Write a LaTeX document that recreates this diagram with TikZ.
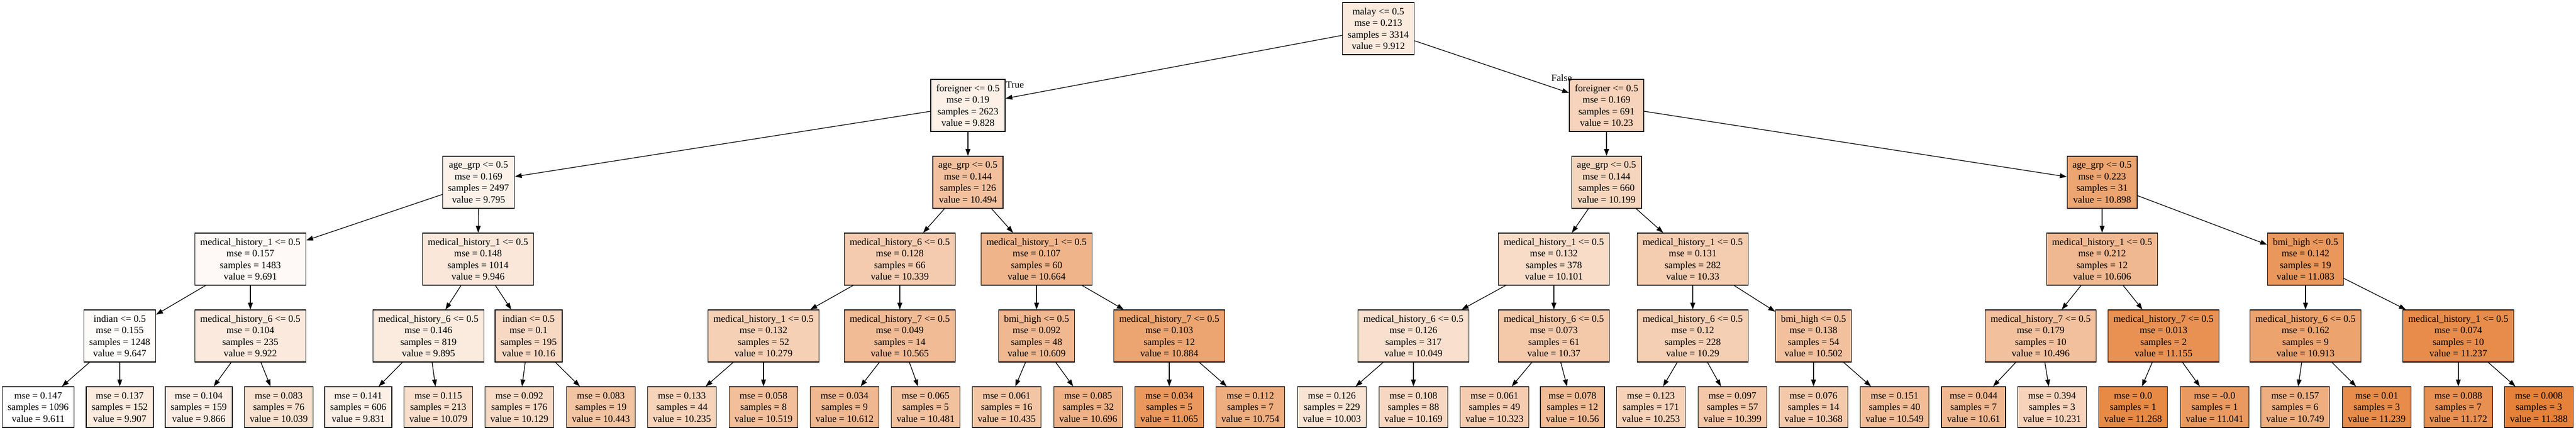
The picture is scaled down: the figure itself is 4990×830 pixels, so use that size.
\documentclass[tikz,border=0pt]{standalone}
\usepackage{fontspec}
\setmainfont{Liberation Serif}
\usetikzlibrary{arrows.meta}
\definecolor{gvorange}{RGB}{229,129,57}
\tikzset{
  treenode/.style={draw=black, line width=1pt, rectangle, align=center, inner xsep=7.9pt, inner ysep=0pt, font=\fontsize{14.1}{16.9}\selectfont},
  splitnode/.style={treenode, minimum height=75.75pt},
  leafnode/.style={treenode, minimum height=59.25pt},
  gvfill/.style={fill=gvorange!#1!white},
  conn/.style={draw=black, line width=1pt, -{Triangle[length=10pt,width=7pt]}},
  elabel/.style={font=\fontsize{14.1}{16.9}\selectfont, inner sep=0pt}
}
\begin{document}
\begin{tikzpicture}[x=0.75pt,y=-0.75pt]
\fill[white] (0,0) rectangle (4990,830);
\useasboundingbox (0,0) rectangle (4990,830);
% rank 0
\node[splitnode, gvfill=16.9] (n) at (2670,55.5) {malay <= 0.5\\mse = 0.213\\samples = 3314\\value = 9.912};
% rank 1
\node[splitnode, gvfill=12.2] (nL) at (1875,204.5) {foreigner <= 0.5\\mse = 0.19\\samples = 2623\\value = 9.828};
\node[splitnode, gvfill=34.8] (nR) at (3112,204.5) {foreigner <= 0.5\\mse = 0.169\\samples = 691\\value = 10.23};
% rank 2
\node[splitnode, gvfill=10.4] (nLL) at (927,353.5) {age\_grp <= 0.5\\mse = 0.169\\samples = 2497\\value = 9.795};
\node[splitnode, gvfill=49.7] (nLR) at (1875,353.5) {age\_grp <= 0.5\\mse = 0.144\\samples = 126\\value = 10.494};
\node[splitnode, gvfill=33.1] (nRL) at (3112,353.5) {age\_grp <= 0.5\\mse = 0.144\\samples = 660\\value = 10.199};
\node[splitnode, gvfill=72.4] (nRR) at (4072,353.5) {age\_grp <= 0.5\\mse = 0.223\\samples = 31\\value = 10.898};
% rank 3
\node[splitnode, gvfill=4.5] (nLLL) at (485,502.5) {medical\_history\_1 <= 0.5\\mse = 0.157\\samples = 1483\\value = 9.691};
\node[splitnode, gvfill=18.9] (nLLR) at (926,502.5) {medical\_history\_1 <= 0.5\\mse = 0.148\\samples = 1014\\value = 9.946};
\node[splitnode, gvfill=41.0] (nLRL) at (1743,502.5) {medical\_history\_6 <= 0.5\\mse = 0.128\\samples = 66\\value = 10.339};
\node[splitnode, gvfill=59.3] (nLRR) at (2008,502.5) {medical\_history\_1 <= 0.5\\mse = 0.107\\samples = 60\\value = 10.664};
\node[splitnode, gvfill=27.6] (nRLL) at (3010,502.5) {medical\_history\_1 <= 0.5\\mse = 0.132\\samples = 378\\value = 10.101};
\node[splitnode, gvfill=40.5] (nRLR) at (3279,502.5) {medical\_history\_1 <= 0.5\\mse = 0.131\\samples = 282\\value = 10.33};
\node[splitnode, gvfill=56.0] (nRRL) at (4072,502.5) {medical\_history\_1 <= 0.5\\mse = 0.212\\samples = 12\\value = 10.606};
\node[splitnode, gvfill=82.8] (nRRR) at (4466,502.5) {bmi\_high <= 0.5\\mse = 0.142\\samples = 19\\value = 11.083};
% rank 4
\node[splitnode, gvfill=2.0] (nLLLL) at (232,651.5) {indian <= 0.5\\mse = 0.155\\samples = 1248\\value = 9.647};
\node[splitnode, gvfill=17.5] (nLLLR) at (485,651.5) {medical\_history\_6 <= 0.5\\mse = 0.104\\samples = 235\\value = 9.922};
\node[splitnode, gvfill=16.0] (nLLRL) at (830,651.5) {medical\_history\_6 <= 0.5\\mse = 0.146\\samples = 819\\value = 9.895};
\node[splitnode, gvfill=30.9] (nLLRR) at (1024,651.5) {indian <= 0.5\\mse = 0.1\\samples = 195\\value = 10.16};
\node[splitnode, gvfill=37.6] (nLRLL) at (1479,651.5) {medical\_history\_1 <= 0.5\\mse = 0.132\\samples = 52\\value = 10.279};
\node[splitnode, gvfill=53.7] (nLRLR) at (1743,651.5) {medical\_history\_7 <= 0.5\\mse = 0.049\\samples = 14\\value = 10.565};
\node[splitnode, gvfill=56.2] (nLRRL) at (2008,651.5) {bmi\_high <= 0.5\\mse = 0.092\\samples = 48\\value = 10.609};
\node[splitnode, gvfill=71.6] (nLRRR) at (2265,651.5) {medical\_history\_7 <= 0.5\\mse = 0.103\\samples = 12\\value = 10.884};
\node[splitnode, gvfill=24.6] (nRLLL) at (2738,651.5) {medical\_history\_6 <= 0.5\\mse = 0.126\\samples = 317\\value = 10.049};
\node[splitnode, gvfill=42.7] (nRLLR) at (3010,651.5) {medical\_history\_6 <= 0.5\\mse = 0.073\\samples = 61\\value = 10.37};
\node[splitnode, gvfill=38.2] (nRLRL) at (3279,651.5) {medical\_history\_6 <= 0.5\\mse = 0.12\\samples = 228\\value = 10.29};
\node[splitnode, gvfill=50.1] (nRLRR) at (3513,651.5) {bmi\_high <= 0.5\\mse = 0.138\\samples = 54\\value = 10.502};
\node[splitnode, gvfill=49.8] (nRRLL) at (3953,651.5) {medical\_history\_7 <= 0.5\\mse = 0.179\\samples = 10\\value = 10.496};
\node[splitnode, gvfill=86.9] (nRRLR) at (4191,651.5) {medical\_history\_7 <= 0.5\\mse = 0.013\\samples = 2\\value = 11.155};
\node[splitnode, gvfill=73.3] (nRRRL) at (4466,651.5) {medical\_history\_6 <= 0.5\\mse = 0.162\\samples = 9\\value = 10.913};
\node[splitnode, gvfill=91.5] (nRRRR) at (4762,651.5) {medical\_history\_1 <= 0.5\\mse = 0.074\\samples = 10\\value = 11.237};
% leaves
\node[leafnode, gvfill=0] (nLLLLL) at (74,789.5) {mse = 0.147\\samples = 1096\\value = 9.611};
\node[leafnode, gvfill=16.7] (nLLLLR) at (232,789.5) {mse = 0.137\\samples = 152\\value = 9.907};
\node[leafnode, gvfill=14.3] (nLLLRL) at (385,789.5) {mse = 0.104\\samples = 159\\value = 9.866};
\node[leafnode, gvfill=24.1] (nLLLRR) at (540,789.5) {mse = 0.083\\samples = 76\\value = 10.039};
\node[leafnode, gvfill=12.4] (nLLRLL) at (694,789.5) {mse = 0.141\\samples = 606\\value = 9.831};
\node[leafnode, gvfill=26.3] (nLLRLR) at (849,789.5) {mse = 0.115\\samples = 213\\value = 10.079};
\node[leafnode, gvfill=29.2] (nLLRRL) at (1006,789.5) {mse = 0.092\\samples = 176\\value = 10.129};
\node[leafnode, gvfill=46.8] (nLLRRR) at (1164,789.5) {mse = 0.083\\samples = 19\\value = 10.443};
\node[leafnode, gvfill=35.1] (nLRLLL) at (1321,789.5) {mse = 0.133\\samples = 44\\value = 10.235};
\node[leafnode, gvfill=51.1] (nLRLLR) at (1479,789.5) {mse = 0.058\\samples = 8\\value = 10.519};
\node[leafnode, gvfill=56.3] (nLRLRL) at (1636,789.5) {mse = 0.034\\samples = 9\\value = 10.612};
\node[leafnode, gvfill=49.0] (nLRLRR) at (1793,789.5) {mse = 0.065\\samples = 5\\value = 10.481};
\node[leafnode, gvfill=46.4] (nLRRLL) at (1950,789.5) {mse = 0.061\\samples = 16\\value = 10.435};
\node[leafnode, gvfill=61.1] (nLRRLR) at (2108,789.5) {mse = 0.085\\samples = 32\\value = 10.696};
\node[leafnode, gvfill=81.8] (nLRRRL) at (2265,789.5) {mse = 0.034\\samples = 5\\value = 11.065};
\node[leafnode, gvfill=64.3] (nLRRRR) at (2422,789.5) {mse = 0.112\\samples = 7\\value = 10.754};
\node[leafnode, gvfill=22.1] (nRLLLL) at (2580,789.5) {mse = 0.126\\samples = 229\\value = 10.003};
\node[leafnode, gvfill=31.4] (nRLLLR) at (2738,789.5) {mse = 0.108\\samples = 88\\value = 10.169};
\node[leafnode, gvfill=40.1] (nRLLRL) at (2895,789.5) {mse = 0.061\\samples = 49\\value = 10.323};
\node[leafnode, gvfill=53.4] (nRLLRR) at (3046,789.5) {mse = 0.078\\samples = 12\\value = 10.56};
\node[leafnode, gvfill=36.1] (nRLRLL) at (3198,789.5) {mse = 0.123\\samples = 171\\value = 10.253};
\node[leafnode, gvfill=44.3] (nRLRLR) at (3356,789.5) {mse = 0.097\\samples = 57\\value = 10.399};
\node[leafnode, gvfill=42.6] (nRLRRL) at (3513,789.5) {mse = 0.076\\samples = 14\\value = 10.368};
\node[leafnode, gvfill=52.8] (nRLRRR) at (3670,789.5) {mse = 0.151\\samples = 40\\value = 10.549};
\node[leafnode, gvfill=56.2] (nRRLLL) at (3823,789.5) {mse = 0.044\\samples = 7\\value = 10.61};
\node[leafnode, gvfill=34.9] (nRRLLR) at (3975,789.5) {mse = 0.394\\samples = 3\\value = 10.231};
\node[leafnode, gvfill=93.2] (nRRLRL) at (4132,789.5) {mse = 0.0\\samples = 1\\value = 11.268};
\node[leafnode, gvfill=80.5] (nRRLRR) at (4290,789.5) {mse = -0.0\\samples = 1\\value = 11.041};
\node[leafnode, gvfill=64.0] (nRRRLL) at (4446,789.5) {mse = 0.157\\samples = 6\\value = 10.749};
\node[leafnode, gvfill=91.6] (nRRRLR) at (4604,789.5) {mse = 0.01\\samples = 3\\value = 11.239};
\node[leafnode, gvfill=87.8] (nRRRRL) at (4762,789.5) {mse = 0.088\\samples = 7\\value = 11.172};
\node[leafnode, gvfill=100] (nRRRRR) at (4918,789.5) {mse = 0.008\\samples = 3\\value = 11.388};
% edges
\foreach \p in {n,nL,nR,nLL,nLR,nRL,nRR,nLLL,nLLR,nLRL,nLRR,nRLL,nRLR,nRRL,nRRR,nLLLL,nLLLR,nLLRL,nLLRR,nLRLL,nLRLR,nLRRL,nLRRR,nRLLL,nRLLR,nRLRL,nRLRR,nRRLL,nRRLR,nRRRL,nRRRR}{
  \draw[conn] (\p) -- (\p L);
  \draw[conn] (\p) -- (\p R);
}
% edge labels
\node[elabel] (ltrue) at (1966,164) {True};
\node[elabel] (lfalse) at (3025,151) {False};
\end{tikzpicture}
\end{document}
